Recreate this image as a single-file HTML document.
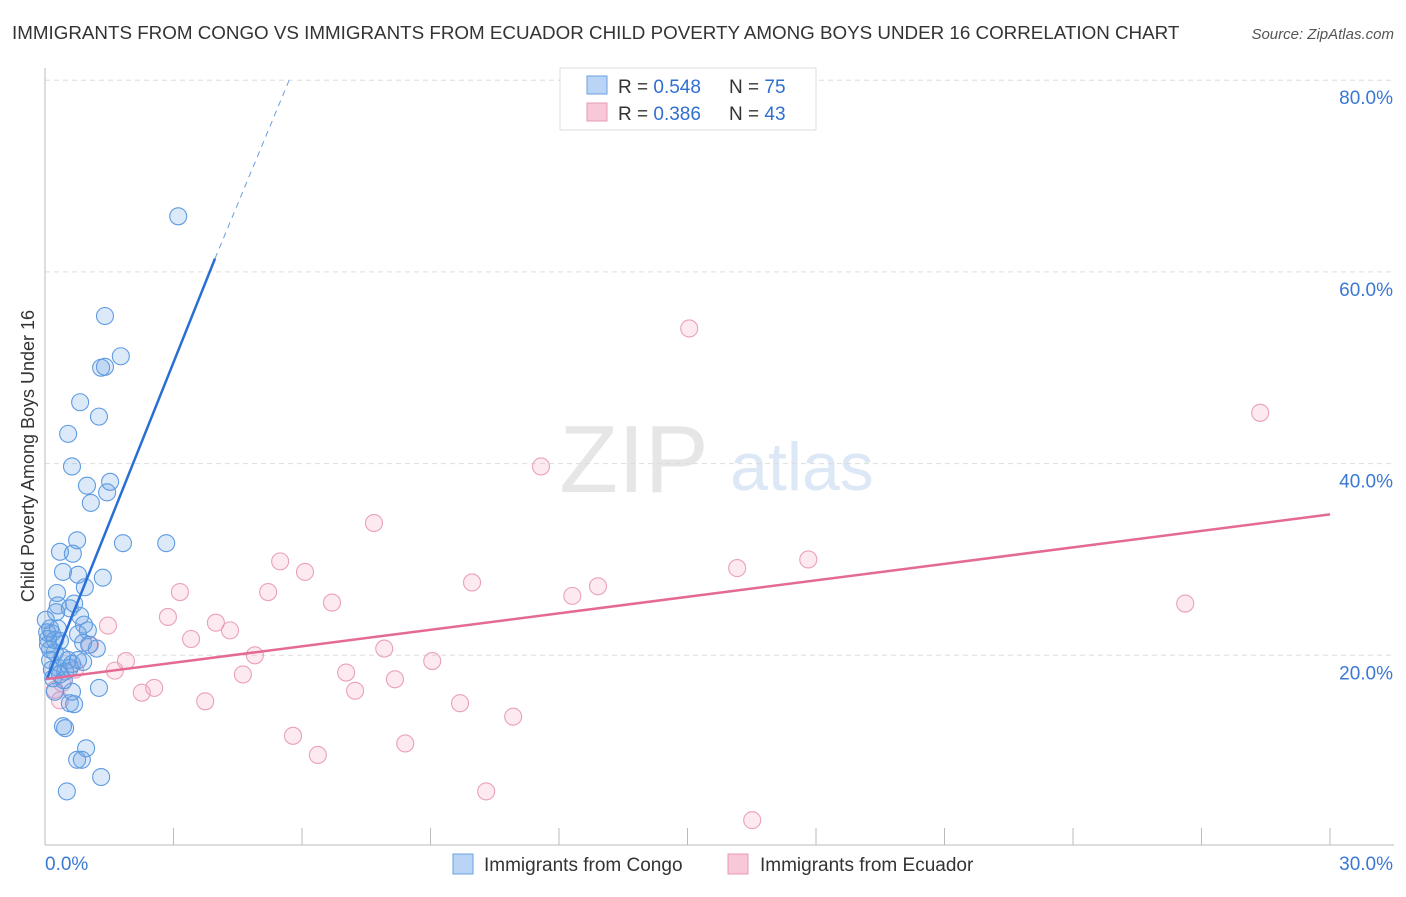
<!DOCTYPE html>
<html><head><meta charset="utf-8">
<style>
body{margin:0;background:#fff;font-family:"Liberation Sans",sans-serif;}
svg text{font-family:"Liberation Sans",sans-serif;}
</style></head>
<body>
<svg id="chart" width="1406" height="892" viewBox="0 0 1406 892" xmlns="http://www.w3.org/2000/svg">
<text x="12" y="39" font-size="18.8" fill="#333">IMMIGRANTS FROM CONGO VS IMMIGRANTS FROM ECUADOR CHILD POVERTY AMONG BOYS UNDER 16 CORRELATION CHART</text>
<text x="1394" y="39" font-size="15" fill="#555" text-anchor="end" font-style="italic">Source: ZipAtlas.com</text>
<text x="634" y="492" font-size="96" fill="#e6e6e6" font-family="Liberation Serif" text-anchor="middle">ZIP</text>
<text x="802" y="490" font-size="68" fill="#dce8f6" text-anchor="middle">atlas</text>
<g id="grid"></g>
<g id="axes"></g>
<g id="marks"></g>
<text x="34" y="456" font-size="18" fill="#333" text-anchor="middle" transform="rotate(-90 34 456)">Child Poverty Among Boys Under 16</text>
<g>
<rect x="560" y="68" width="256" height="62" fill="#fff" stroke="#ddd"/>
<rect x="587" y="76" width="20" height="18" fill="#b9d4f5" stroke="#6aa0e0"/>
<rect x="587" y="103" width="20" height="18" fill="#f9c8d8" stroke="#e89ab5"/>
<text x="618" y="93" font-size="19" fill="#333">R = <tspan fill="#2f6fd0">0.548</tspan></text>
<text x="729" y="93" font-size="19" fill="#333">N = <tspan fill="#2f6fd0">75</tspan></text>
<text x="618" y="120" font-size="19" fill="#333">R = <tspan fill="#2f6fd0">0.386</tspan></text>
<text x="729" y="120" font-size="19" fill="#333">N = <tspan fill="#2f6fd0">43</tspan></text>
</g>
<g>
<rect x="453" y="854" width="20" height="20" fill="#b9d4f5" stroke="#6aa0e0"/>
<text x="484" y="871" font-size="19" fill="#333">Immigrants from Congo</text>
<rect x="728" y="854" width="20" height="20" fill="#f9c8d8" stroke="#e89ab5"/>
<text x="760" y="871" font-size="19" fill="#333">Immigrants from Ecuador</text>
</g>
</svg>
<script>
const yTicks=[20,40,60,80];
const yTickLabels=["20.0%","40.0%","60.0%","80.0%"];
const xTicks=[0,3,6,9,12,15,18,21,24,27,30];
const congoX=[3.11,1.40,1.77,1.31,1.40,0.82,1.26,0.54,0.63,0.98,1.52,1.45,1.07,1.82,2.83,0.75,0.35,0.65,0.42,0.77,1.35,0.93,0.28,0.30,0.58,0.68,0.26,0.82,0.91,0.12,0.16,0.07,0.77,1.00,0.35,0.89,1.21,1.03,0.12,0.23,0.40,0.54,0.89,0.63,0.30,0.47,0.19,0.35,1.26,0.23,0.58,0.68,0.63,0.42,0.47,0.96,0.75,0.86,1.31,0.51,0.02,0.07,0.12,0.23,0.05,0.16,0.44,0.58,0.77,0.30];
const congoY=[65.8,55.4,51.2,50.0,50.1,46.4,44.9,43.1,39.7,37.7,38.1,37.0,35.9,31.7,31.7,32.0,30.8,30.6,28.7,28.4,28.1,27.1,26.5,25.2,24.9,25.4,24.5,24.1,23.2,22.8,22.3,21.7,22.2,22.6,21.5,21.3,20.7,21.1,20.6,20.3,19.8,19.5,19.3,19.1,18.7,18.3,17.6,18.0,16.6,16.2,15.0,14.9,16.2,12.6,12.4,10.3,9.1,9.1,7.3,5.8,23.7,21.1,19.5,21.6,22.4,18.5,17.4,18.7,19.5,22.8];
const ecuadorX=[15.04,28.37,11.58,7.68,5.49,17.82,6.07,16.16,3.15,9.97,12.91,12.31,5.21,26.62,6.70,2.87,3.99,4.32,1.47,3.41,7.92,4.90,9.04,1.89,7.03,1.63,4.62,8.17,2.55,2.26,3.74,9.69,7.24,10.93,5.79,8.41,6.37,10.30,16.51,0.40,0.23,0.70,1.05,0.35];
const ecuadorY=[54.1,45.3,39.7,33.8,29.8,30.0,28.7,29.1,26.6,27.6,27.2,26.2,26.6,25.4,25.5,24.0,23.4,22.6,23.1,21.7,20.7,20.0,19.4,19.4,18.2,18.4,18.0,17.5,16.6,16.1,15.2,15.0,16.3,13.6,11.6,10.8,9.6,5.8,2.8,17.1,16.4,18.5,21.1,15.3];
const congoTrend=[0.05,17.6,3.97,61.4,5.7,80];
const ecuadorTrend=[0,17.5,30,34.7];

const NS="http://www.w3.org/2000/svg";
const X0=45,X1=1330,Y0=847,YPER=191.7/20;
function sx(v){return X0+(X1-X0)*v/30;}
function sy(v){return Y0-v*YPER;}
function mk(tag,attrs,parent){const e=document.createElementNS(NS,tag);for(const k in attrs)e.setAttribute(k,attrs[k]);parent.appendChild(e);return e;}
const grid=document.getElementById('grid'),axes=document.getElementById('axes'),marks=document.getElementById('marks');
yTicks.forEach((t,i)=>{
  const l=mk('line',{x1:45,x2:1394,y1:sy(t),y2:sy(t),stroke:'#ddd','stroke-dasharray':'5,4'},grid);
  
  
  const tx=mk('text',{x:1393,y:sy(t)+24,'font-size':19,fill:'#3a78d4','text-anchor':'end'},axes);
  tx.textContent=yTickLabels[i];
  
  
});
const ax=mk('line',{x1:45,x2:1394,y1:845,y2:845,stroke:'#bbb'},axes);


const ay=mk('line',{x1:45,x2:45,y1:68,y2:845,stroke:'#bbb'},axes);


xTicks.forEach(t=>{
  if(t===0)return;
  const l=mk('line',{x1:sx(t),x2:sx(t),y1:828,y2:845,stroke:'#bbb'},axes);
  
  
});
const xl0=mk('text',{x:45,y:870,'font-size':19,fill:'#3a78d4'},axes);xl0.textContent='0.0%';


const xl1=mk('text',{x:1393,y:870,'font-size':19,fill:'#3a78d4','text-anchor':'end'},axes);xl1.textContent='30.0%';



ecuadorX.forEach((v,i)=>{
  const c=mk('circle',{cx:sx(v),cy:sy(ecuadorY[i]),r:8.5,fill:'rgba(244,160,190,0.22)',stroke:'#eaa0bb','stroke-width':1.1},marks);
  
  
});
congoX.forEach((v,i)=>{
  const c=mk('circle',{cx:sx(v),cy:sy(congoY[i]),r:8.5,fill:'rgba(110,165,230,0.24)',stroke:'#5e9be0','stroke-width':1.1},marks);
  
  
});
const bt=mk('line',{x1:sx(congoTrend[0]),y1:sy(congoTrend[1]),x2:sx(congoTrend[2]),y2:sy(congoTrend[3]),stroke:'#2a6fd6','stroke-width':2.5},marks);


const bd=mk('line',{x1:sx(congoTrend[2]),y1:sy(congoTrend[3]),x2:sx(congoTrend[4]),y2:sy(congoTrend[5]),stroke:'#6a9ee0','stroke-width':1,'stroke-dasharray':'6,5'},marks);


const pt=mk('line',{x1:sx(ecuadorTrend[0]),y1:sy(ecuadorTrend[1]),x2:sx(ecuadorTrend[2]),y2:sy(ecuadorTrend[3]),stroke:'#e46a94','stroke-width':2.5},marks);


</script>
</body></html>
